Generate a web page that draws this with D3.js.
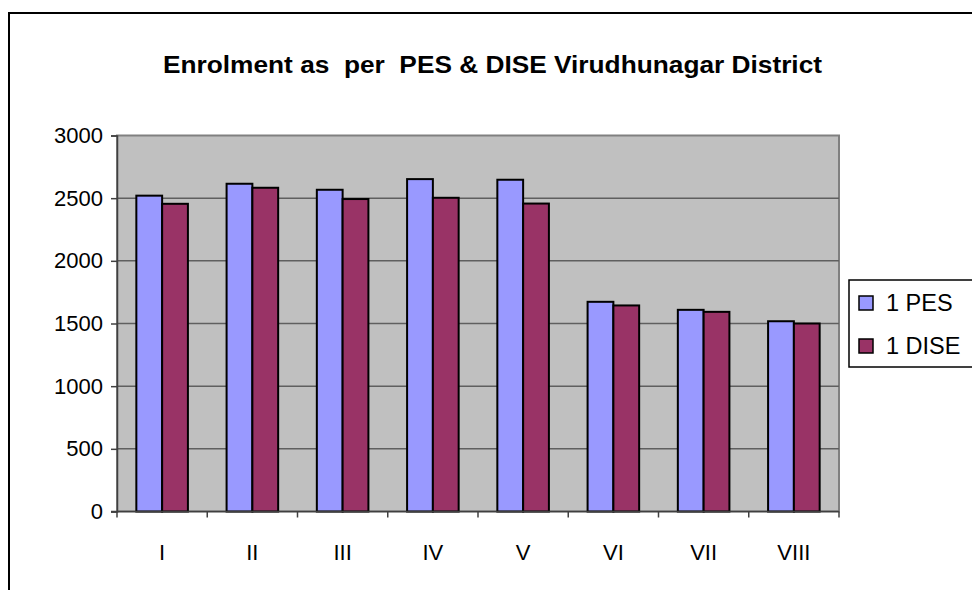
<!DOCTYPE html>
<html><head><meta charset="utf-8">
<script src="https://cdn.jsdelivr.net/npm/d3@7"></script>
<style>body{margin:0;background:#fff}svg{display:block}</style>
</head><body>
<script>
const categories = ["I","II","III","IV","V","VI","VII","VIII"];
const seriesNames = ["1 PES","1 DISE"];
const pesValues  = [2520, 2615, 2567, 2652, 2647, 1673, 1609, 1518];
const diseValues = [2455, 2583, 2493, 2503, 2457, 1644, 1593, 1500];
const yTicks = [0, 500, 1000, 1500, 2000, 2500, 3000];
const colors = ["#9999ff", "#993366"];
const title = "Enrolment as  per  PES & DISE Virudhunagar District";

(function () {
const W = 972, H = 590;
const svg = d3.select("body").append("svg").attr("width", W).attr("height", H)
  .style("font-family", "Liberation Sans, Arial, sans-serif");

// outer chart border
svg.append("rect").attr("x", 9).attr("y", 13).attr("width", W + 20).attr("height", H + 20)
  .attr("fill", "#fff").attr("stroke", "#000").attr("stroke-width", 2);

const pL = 117, pR = 839, pT = 135.5, pB = 511.5;
const x = d3.scaleBand().domain(categories).range([pL, pR]).paddingInner(0).paddingOuter(0);
const y = d3.scaleLinear().domain([0, 3000]).range([pB, pT]);

// plot area
svg.append("rect").attr("x", pL).attr("y", pT).attr("width", pR - pL).attr("height", pB - pT)
  .attr("fill", "#c0c0c0").attr("stroke", "#808080").attr("stroke-width", 2);

// gridlines
svg.append("g").selectAll("line").data(yTicks.filter(t => t > 0 && t < 3000)).join("line")
  .attr("x1", pL).attr("x2", pR).attr("y1", d => y(d)).attr("y2", d => y(d))
  .attr("stroke", "#5f5f5f").attr("stroke-width", 1.5);

// bars
const bw = x.bandwidth() / 3.5; // gap width 150%
const data = categories.map((c, i) => ({c, vals: [pesValues[i], diseValues[i]]}));
const g = svg.append("g");
data.forEach(d => {
  d.vals.forEach((v, k) => {
    g.append("rect")
      .attr("x", x(d.c) + bw * 0.75 + k * bw)
      .attr("y", y(v))
      .attr("width", bw)
      .attr("height", y(0) - y(v))
      .attr("fill", colors[k]).attr("stroke", "#000").attr("stroke-width", 2);
  });
});

// y axis
const yAxis = d3.axisLeft(y).tickValues(yTicks).tickSize(6).tickPadding(8).tickFormat(d3.format("d"));
const ya = svg.append("g").attr("transform", `translate(${pL},0)`).call(yAxis);
ya.select(".domain").attr("stroke", "#404040").attr("stroke-width", 1.5);
ya.selectAll(".tick line").attr("stroke", "#404040").attr("stroke-width", 1.5);
ya.selectAll("text").attr("font-size", 22).attr("fill", "#000").attr("font-family", "Liberation Sans, Arial, sans-serif");

// x axis
const xa = svg.append("g").attr("transform", `translate(0,${pB})`);
xa.append("line").attr("x1", pL - 6).attr("x2", pR).attr("y1", 0).attr("y2", 0)
  .attr("stroke", "#404040").attr("stroke-width", 1.5);
const bounds = categories.map(c => x(c)).concat([pR]);
xa.selectAll("line.tk").data(bounds).join("line").attr("class", "tk")
  .attr("x1", d => d).attr("x2", d => d).attr("y1", 0).attr("y2", 6)
  .attr("stroke", "#404040").attr("stroke-width", 1.5);
xa.selectAll("text").data(categories).join("text")
  .attr("x", d => x(d) + x.bandwidth() / 2).attr("y", 48)
  .attr("text-anchor", "middle").attr("font-size", 22).text(d => d);

// title
svg.append("text").attr("x", 492.5).attr("y", 73).attr("text-anchor", "middle")
  .attr("xml:space", "preserve").style("white-space", "pre")
  .attr("font-size", 23.5).attr("font-weight", "bold")
  .attr("textLength", 659).attr("lengthAdjust", "spacingAndGlyphs")
  .text(title);

// legend
const lg = svg.append("g");
lg.append("rect").attr("x", 849).attr("y", 280).attr("width", 140).attr("height", 87)
  .attr("fill", "#fff").attr("stroke", "#000").attr("stroke-width", 1.5);
seriesNames.forEach((n, i) => {
  const yy = 296 + i * 43;
  lg.append("rect").attr("x", 859).attr("y", yy).attr("width", 14).attr("height", 14)
    .attr("fill", colors[i]).attr("stroke", "#000").attr("stroke-width", 1.5);
  lg.append("text").attr("x", 886).attr("y", yy + 15).attr("font-size", 23.5).text(n);
});
})();
</script>
</body></html>
